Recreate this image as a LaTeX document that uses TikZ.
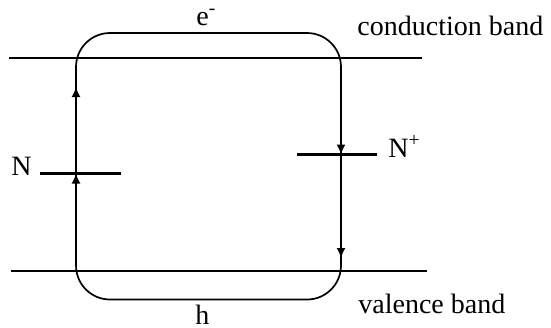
\documentclass[tikz,border=0pt]{standalone}
\usepackage{fontspec}
\setmainfont{Liberation Serif}
\usepackage{tikz}
\usetikzlibrary{arrows.meta,positioning,calc}
\tikzset{
  band/.style={draw=black, line width=1.2bp},
  level/.style={draw=black, line width=1.2bp},
  orbit/.style={draw=black, line width=0.85bp, rounded corners=17bp},
  flow/.style={-{Latex[length=5bp,width=4.5bp]}, line width=0.85bp, draw=black},
  legend/.style={font=\fontsize{14bp}{16bp}\selectfont, inner sep=0pt}
}

\begin{document}
\begin{tikzpicture}[x=0.5bp, y=-0.5bp]
  \useasboundingbox (0,0) rectangle (551,327);

  % bands
  \coordinate (cbL) at (9,58);   \coordinate (cbR) at (422,58);
  \coordinate (vbL) at (11,271); \coordinate (vbR) at (427,271);
  \draw[band] (cbL) -- (cbR);
  \draw[band] (vbL) -- (vbR);

  % defect levels
  \coordinate (nL) at (40,173.5);   \coordinate (nR) at (121,173.5);
  \coordinate (npL) at (297,154.5); \coordinate (npR) at (377,154.5);
  \draw[level] (nL) -- (nR);
  \draw[level] (npL) -- (npR);

  % recombination loop
  \coordinate (lt) at (76,33);  \coordinate (rt) at (341,33);
  \coordinate (rb) at (341,299.5); \coordinate (lb) at (76,299.5);
  \draw[orbit] (lb) -- (lt) -- (rt) -- (rb) -- cycle;

  % arrow tips on the loop
  \coordinate (up1) at (76,87);
  \coordinate (up2) at (76,173.5);
  \coordinate (dn1) at (341,154.5);
  \coordinate (dn2) at (341,258);
  \draw[flow] ($(up1)+(0,12)$) -- (up1);
  \draw[flow] ($(up2)+(0,12)$) -- (up2);
  \draw[flow] ($(dn1)+(0,-12)$) -- (dn1);
  \draw[flow] ($(dn2)+(0,-12)$) -- (dn2);

  % labels
  \node[legend, anchor=base west] (cb) at (357,35)  {conduction band};
  \node[legend, anchor=base west] (vb) at (358,313) {valence band};
  \node[legend, anchor=base east] (n)  at (32,175)  {N};
  \node[legend, anchor=base west] (np) at (388,157) {N\textsuperscript{+}};
  \node[legend, anchor=base west] (el) at (196,25)  {e\textsuperscript{-}};
  \node[legend, anchor=base west] (ho) at (195,324) {h};
\end{tikzpicture}
\end{document}
